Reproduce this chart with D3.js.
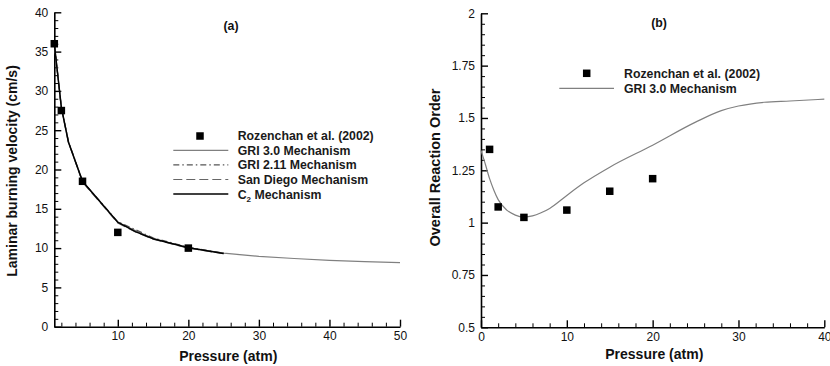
<!DOCTYPE html>
<html>
<head>
<meta charset="utf-8">
<script src="https://cdn.jsdelivr.net/npm/d3@7"></script>
<style>
    body { margin: 0; background: #fff; }
    svg { display: block; font-family: "Liberation Sans", Arial, sans-serif; }
    .tick text { fill: #111; font-size: 12px; }
    .lbl { font-weight: bold; fill: #111; }
    .leg { font-weight: bold; font-size: 12.3px; fill: #1a1a1a; }
</style>
</head>
<body>
<div id="chart"></div>
<script>
// Panel (a): laminar burning velocity vs pressure
const pressureA = [1, 2, 3, 5, 10, 15, 20, 25, 30, 35, 40, 45, 50];
const gri30A = [36.0, 27.9, 23.5, 18.45, 13.25, 11.2, 10.05, 9.35, 8.95, 8.68, 8.45, 8.28, 8.15];
const pressureMechA = [1, 2, 3, 5, 10, 12.5, 15, 20, 25];
const gri211A = [36.1, 27.9, 23.6, 18.5, 13.35, 12.35, 11.3, 10.1, 9.35];
const sanDiegoA = [36.0, 27.8, 23.5, 18.4, 13.2, 12.05, 11.15, 10.0, 9.3];
const c2A = [36.0, 27.9, 23.5, 18.5, 13.3, 12.1, 11.2, 10.05, 9.3];
const expPressureA = [1, 2, 5, 10, 20];
const expVelocityA = [36, 27.5, 18.5, 12, 10];

// Panel (b): overall reaction order vs pressure
const pressureB = [0, 0.5, 1, 1.5, 2, 3, 4, 5, 6, 7, 8, 10, 12, 15, 20, 25, 28, 30, 33, 36, 40];
const gri30B = [1.345, 1.28, 1.21, 1.155, 1.11, 1.06, 1.036, 1.027, 1.032, 1.047, 1.068, 1.13, 1.19, 1.265,
                1.37, 1.48, 1.535, 1.557, 1.575, 1.581, 1.59];
const expPressureB = [1, 2, 5, 10, 15, 20];
const expOrderB = [1.35, 1.075, 1.025, 1.06, 1.15, 1.21];

const W = 830, H = 366;
const svg = d3.select('#chart').append('svg').attr('width', W).attr('height', H);

function drawAxes(g, x, y, opts) {
    const xa = g.append('g').attr('transform', `translate(0,${y.range()[0]})`)
        .call(d3.axisBottom(x).tickValues(opts.xMajor).tickSizeInner(-7).tickSizeOuter(0).tickPadding(5));
    xa.select('.domain').attr('stroke-width', 1.6);
    xa.selectAll('.tick line').attr('stroke-width', 1.4);
    g.append('g').attr('transform', `translate(0,${y.range()[0]})`)
        .call(d3.axisBottom(x).tickValues(opts.xMinor).tickSize(-4).tickFormat(''))
        .call(s => s.select('.domain').remove());

    const ya = g.append('g').attr('transform', `translate(${x.range()[0]},0)`)
        .call(d3.axisLeft(y).tickValues(opts.yMajor).tickSizeInner(-7).tickSizeOuter(0)
            .tickPadding(6).tickFormat(opts.yFormat));
    ya.select('.domain').attr('stroke-width', 1.6);
    ya.selectAll('.tick line').attr('stroke-width', 1.4);
    g.append('g').attr('transform', `translate(${x.range()[0]},0)`)
        .call(d3.axisLeft(y).tickValues(opts.yMinor).tickSize(-4).tickFormat(''))
        .call(s => s.select('.domain').remove());
    g.selectAll('.tick text').attr('font-family', null).attr('font-size', null);
}

function squares(g, x, y, xs, ys) {
    const s = 7.5;
    g.selectAll(null).data(xs).join('rect')
        .attr('x', (d) => x(d) - s / 2)
        .attr('y', (d, i) => y(ys[i]) - s / 2)
        .attr('width', s).attr('height', s).attr('fill', '#000');
}

// ── Panel (a) ────────────────────────────────────────────
const xA = d3.scaleLinear().domain([1, 50]).range([54.3, 400]);
const yA = d3.scaleLinear().domain([0, 40]).range([326.7, 12.3]);
const gA = svg.append('g');

drawAxes(gA, xA, yA, {
    xMajor: [10, 20, 30, 40, 50],
    xMinor: d3.range(2, 50, 2).filter(v => v % 10 !== 0),
    yMajor: d3.range(0, 41, 5),
    yMinor: d3.range(1, 40, 1).filter(v => v % 5 !== 0),
    yFormat: d3.format('d')
});

const lineA = (xs) => d3.line().x((d, i) => xA(xs[i])).y(d => yA(d));
const seriesA = [
    { name: 'GRI 3.0 Mechanism', xs: pressureA, ys: gri30A, color: '#808080', width: 1.2, dash: null },
    { name: 'GRI 2.11 Mechanism', xs: pressureMechA, ys: gri211A, color: '#555', width: 1.2, dash: '6,3,1.5,3' },
    { name: 'San Diego Mechanism', xs: pressureMechA, ys: sanDiegoA, color: '#666', width: 1.2, dash: '9,4' },
    { name: 'C\u2082 Mechanism', xs: pressureMechA, ys: c2A, color: '#000', width: 1.5, dash: null }
];
for (const s of seriesA) {
    gA.append('path').datum(s.ys)
        .attr('fill', 'none').attr('stroke', s.color).attr('stroke-width', s.width)
        .attr('stroke-dasharray', s.dash)
        .attr('d', lineA(s.xs));
}
squares(gA, xA, yA, expPressureA, expVelocityA);

gA.append('text').attr('class', 'lbl').attr('font-size', 12.3)
    .attr('x', 231).attr('y', 29.5).attr('text-anchor', 'middle').text('(a)');
gA.append('text').attr('class', 'lbl').attr('font-size', 14)
    .attr('x', 228.3).attr('y', 361).attr('text-anchor', 'middle').text('Pressure (atm)');
gA.append('text').attr('class', 'lbl').attr('font-size', 14)
    .attr('transform', 'translate(16.5,171) rotate(-90)').attr('text-anchor', 'middle')
    .text('Laminar burning velocity (cm/s)');

// Legend (a)
const legA = gA.append('g');
legA.append('rect').attr('x', 200 - 3.75).attr('y', 136 - 3.75).attr('width', 7.5).attr('height', 7.5).attr('fill', '#000');
legA.append('text').attr('class', 'leg').attr('x', 237.7).attr('y', 136).attr('dy', '0.36em')
    .text('Rozenchan et al. (2002)');
seriesA.forEach((s, i) => {
    const ly = 150.3 + i * 14.6;
    legA.append('line').attr('x1', 173.3).attr('x2', 228.3).attr('y1', ly).attr('y2', ly)
        .attr('stroke', s.color).attr('stroke-width', s.width).attr('stroke-dasharray', s.dash);
    const t = legA.append('text').attr('class', 'leg').attr('x', 237.7).attr('y', ly).attr('dy', '0.36em');
    if (s.name.startsWith('C\u2082')) {
        t.append('tspan').text('C');
        t.append('tspan').attr('font-size', 8).attr('dy', '3').text('2');
        t.append('tspan').attr('dy', '-3').text(' Mechanism');
    } else {
        t.text(s.name);
    }
});

// ── Panel (b) ────────────────────────────────────────────
const xB = d3.scaleLinear().domain([0, 40]).range([481, 824.3]);
const yB = d3.scaleLinear().domain([0.5, 2]).range([327.3, 13.3]);
const gB = svg.append('g');

drawAxes(gB, xB, yB, {
    xMajor: [0, 10, 20, 30, 40],
    xMinor: d3.range(2, 40, 2).filter(v => v % 10 !== 0),
    yMajor: d3.range(0.5, 2.01, 0.25),
    yMinor: d3.range(0.55, 2, 0.05).filter(v => Math.abs(v * 4 - Math.round(v * 4)) > 0.01),
    yFormat: d => String(+d.toFixed(2))
});

gB.append('path').datum(gri30B)
    .attr('fill', 'none').attr('stroke', '#808080').attr('stroke-width', 1.2)
    .attr('d', d3.line().x((d, i) => xB(pressureB[i])).y(d => yB(d)).curve(d3.curveMonotoneX));
squares(gB, xB, yB, expPressureB, expOrderB);

gB.append('text').attr('class', 'lbl').attr('font-size', 12.3)
    .attr('x', 659).attr('y', 27).attr('text-anchor', 'middle').text('(b)');
gB.append('text').attr('class', 'lbl').attr('font-size', 14)
    .attr('x', 654.3).attr('y', 359).attr('text-anchor', 'middle').text('Pressure (atm)');
gB.append('text').attr('class', 'lbl').attr('font-size', 14.5)
    .attr('transform', 'translate(440,167.5) rotate(-90)').attr('text-anchor', 'middle')
    .text('Overall Reaction Order');

// Legend (b)
const legB = gB.append('g');
legB.append('rect').attr('x', 586.7 - 3.75).attr('y', 73.3 - 3.75).attr('width', 7.5).attr('height', 7.5).attr('fill', '#000');
legB.append('text').attr('class', 'leg').attr('x', 624).attr('y', 73.3).attr('dy', '0.36em')
    .text('Rozenchan et al. (2002)');
legB.append('line').attr('x1', 559.3).attr('x2', 614).attr('y1', 88.3).attr('y2', 88.3)
    .attr('stroke', '#808080').attr('stroke-width', 1.2);
legB.append('text').attr('class', 'leg').attr('x', 624).attr('y', 88.3).attr('dy', '0.36em')
    .text('GRI 3.0 Mechanism');
</script>
</body>
</html>
